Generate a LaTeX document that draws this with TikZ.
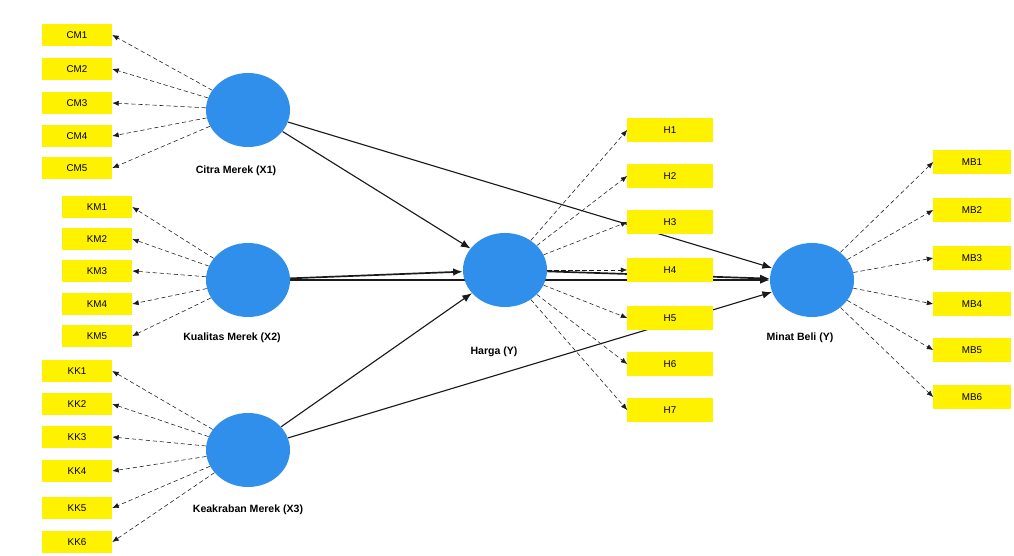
\documentclass[tikz,border=0pt]{standalone}
\usepackage{fontspec}
\setmainfont{Liberation Sans}
\usetikzlibrary{arrows.meta,positioning,backgrounds,shapes.geometric}
\definecolor{IndYellow}{HTML}{FFF200}
\definecolor{LatBlue}{HTML}{2F8FEA}
\definecolor{LineDark}{HTML}{1A1A1A}

\begin{document}
\begin{tikzpicture}[
    x=0.025cm, y=-0.025cm,
    font=\fontsize{7}{8}\selectfont,
    ind/.style={fill=IndYellow, minimum width=1.75cm, minimum height=0.55cm, inner sep=0pt},
    indh/.style={ind, minimum width=2.125cm, minimum height=0.6cm},
    indm/.style={ind, minimum width=1.925cm, minimum height=0.6cm},
    latent/.style={ellipse, fill=LatBlue, minimum width=2.1cm, minimum height=1.85cm, inner sep=0pt},
    latlabel/.style={font=\fontsize{7.5}{9}\selectfont\bfseries},
    refl/.style={-{Latex[length=1.6mm,width=1.3mm]}, densely dashed, thin, draw=LineDark},
    path/.style={-{Latex[length=2.4mm,width=1.9mm]}, thick, draw=LineDark}
]
\useasboundingbox (0,0) rectangle (1014,556);

% latent variables
\node[latent] (x1) at (248,110) {};
\node[latent] (x2) at (248,280) {};
\node[latent] (x3) at (248,450) {};
\node[latent] (hy) at (505,270) {};
\node[latent] (mb) at (812,280) {};

\node[latlabel] (x1lab) at (236,171) {Citra Merek (X1)};
\node[latlabel] (x2lab) at (232,338) {Kualitas Merek (X2)};
\node[latlabel] (x3lab) at (248,510) {Keakraban Merek (X3)};
\node[latlabel] (hylab) at (494,352) {Harga (Y)};
\node[latlabel] (mblab) at (800,338) {Minat Beli (Y)};

% indicators
\foreach \i/\y in {1/35,2/69,3/103,4/136,5/168}
  \node[ind] (cm\i) at (77,\y) {CM\i};
\foreach \i/\y in {1/207,2/239,3/271,4/304,5/336}
  \node[ind] (km\i) at (97,\y) {KM\i};
\foreach \i/\y in {1/371,2/404,3/437,4/471,5/508,6/542}
  \node[ind] (kk\i) at (77,\y) {KK\i};
\foreach \i/\y in {1/130,2/176,3/222,4/270,5/318,6/364,7/410}
  \node[indh] (h\i) at (670,\y) {H\i};
\foreach \i/\y in {1/162,2/210,3/258,4/304,5/350,6/397}
  \node[indm] (m\i) at (972,\y) {MB\i};

% outer loadings
\foreach \i in {1,...,5} \draw[refl] (x1) -- (cm\i.east);
\foreach \i in {1,...,5} \draw[refl] (x2) -- (km\i.east);
\foreach \i in {1,...,6} \draw[refl] (x3) -- (kk\i.east);
\foreach \i in {1,...,7} \draw[refl] (hy) -- (h\i.west);
\foreach \i in {1,...,6} \draw[refl] (mb) -- (m\i.west);

% inner model
\begin{scope}[on background layer]
\draw[path] (x1) -- (hy);
\draw[path] (x1) -- (mb);
\draw[path, very thick] (x2) -- (hy);
\draw[path] (x2) -- (mb);
\draw[path] (x3) -- (hy);
\draw[path] (x3) -- (mb);
\draw[path, very thick] (hy) -- (mb);
\end{scope}
\end{tikzpicture}
\end{document}
